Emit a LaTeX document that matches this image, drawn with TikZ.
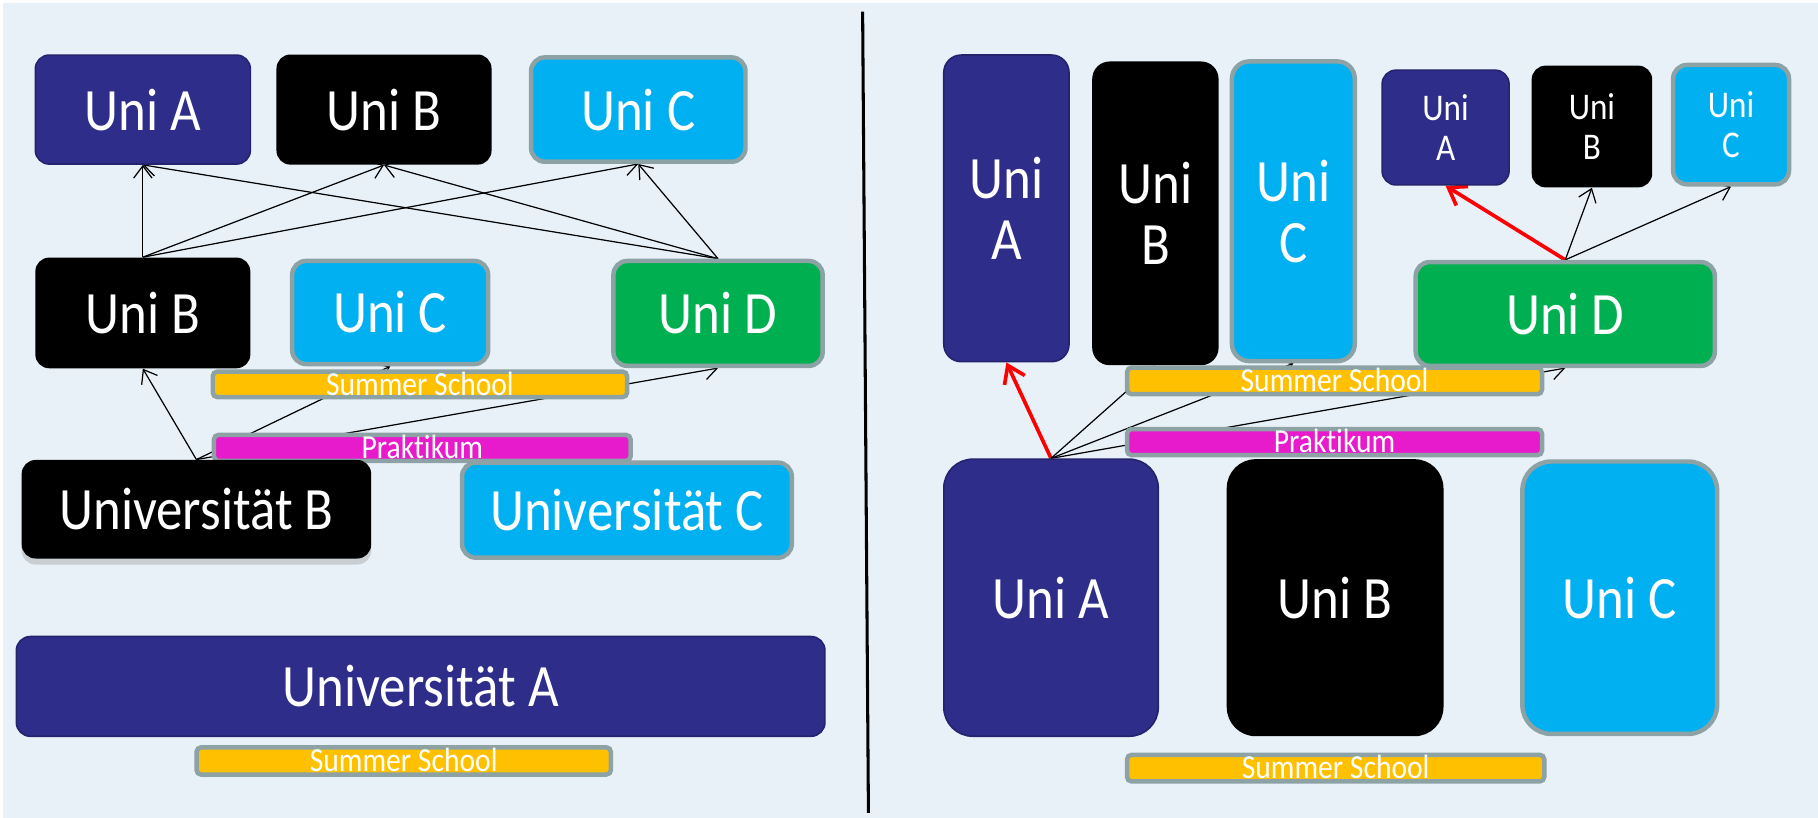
\documentclass[tikz,border=0pt]{standalone}
\usepackage{fontspec}
\setmainfont{Carlito}[FakeStretch=0.88, Ligatures=NoCommon]
\usetikzlibrary{arrows.meta, shadows}
\definecolor{uninavy}{RGB}{46,45,137}
\definecolor{navyedge}{RGB}{36,35,110}
\definecolor{unicyan}{RGB}{0,176,240}
\definecolor{unigreen}{RGB}{0,176,80}
\definecolor{uniorange}{RGB}{255,192,0}
\definecolor{unipink}{RGB}{231,27,204}
\definecolor{greyedge}{RGB}{140,162,165}
\definecolor{paper}{RGB}{233,241,248}
\newcommand{\bigtxt}{\fontsize{29.5pt}{30pt}\selectfont}
\newcommand{\smalltxt}{\fontsize{18.5pt}{20pt}\selectfont}
\newcommand{\bartxt}{\fontsize{16.5pt}{16pt}\selectfont}
\pgfdeclarelayer{back}
\pgfdeclarelayer{links}
\pgfsetlayers{back,links,main}

\begin{document}
\begin{tikzpicture}[x=0.02cm, y=-0.02cm,
    box/.style={rectangle, rounded corners=0.24cm, inner sep=0pt, text=white,
                align=center, font=\bigtxt},
    navybox/.style={box, fill=uninavy, draw=navyedge, line width=0.8pt},
    blackbox/.style={box, fill=black},
    cyanbox/.style={box, fill=unicyan, draw=greyedge, line width=2.2pt},
    greenbox/.style={box, fill=unigreen, draw=greyedge, line width=2.2pt},
    bar/.style={rectangle, rounded corners=0.08cm, draw=greyedge, line width=2.2pt,
                inner sep=0pt, text=white, font=\bartxt, text height=10.5pt, text depth=0pt},
    link/.style={-{Straight Barb[length=6pt,width=9pt]}, line width=0.6pt},
    hot/.style={-{Straight Barb[length=8pt,width=11pt]}, red, line width=1.8pt}]

    \useasboundingbox (0,0) rectangle (1568,705.5);
    \begin{pgfonlayer}{back}
        \fill[white] (0,0) rectangle (1568,705.5);
        \fill[paper] (3,3) rectangle (1568,705.5);
    \end{pgfonlayer}

    % Left half
    \node[navybox, minimum width=3.71cm, minimum height=1.88cm] (topA) at (123.2,94.5) {Uni A};
    \node[blackbox, minimum width=3.71cm, minimum height=1.90cm] (topB) at (331.2,94.5) {Uni B};
    \node[cyanbox, minimum width=3.70cm, minimum height=1.80cm] (topC) at (550.5,94.5) {Uni C};

    \node[blackbox, minimum width=3.71cm, minimum height=1.91cm] (midB) at (123.2,269.9) {Uni B};
    \node[cyanbox, minimum width=3.38cm, minimum height=1.78cm] (midC) at (336.5,269.5) {Uni C};
    \node[greenbox, minimum width=3.61cm, minimum height=1.81cm] (midD) at (619.3,270.3) {Uni D};

    \node[bar, fill=uniorange, minimum width=7.15cm, minimum height=0.44cm] (sumL) at (362.2,331.5) {Summer School};
    \node[bar, fill=unipink, minimum width=7.19cm, minimum height=0.45cm] (prakL) at (364.2,386.3) {Praktikum};

    \node[blackbox, minimum width=6.03cm, minimum height=1.70cm,
          drop shadow={shadow xshift=0pt, shadow yshift=-3pt, opacity=0.3}] (univB) at (169.4,439.2) {Universität B};
    \node[cyanbox, minimum width=5.69cm, minimum height=1.64cm] (univC) at (540.7,440) {Universität C};
    \node[navybox, minimum width=13.95cm, minimum height=1.72cm] (univA) at (362.8,592) {Universität A};
    \node[bar, fill=uniorange, minimum width=7.15cm, minimum height=0.47cm] (sumLow) at (348.2,656.3) {Summer School};

    % Divider
    \draw[line width=1.5pt] (744,10) -- (749,701);

    % Right half
    \node[navybox, rounded corners=0.3cm, minimum width=2.16cm, minimum height=5.29cm] (tallA) at (868,179.7) {Uni\\A};
    \node[blackbox, rounded corners=0.3cm, minimum width=2.18cm, minimum height=5.24cm] (tallB) at (996.5,184) {Uni\\B};
    \node[cyanbox, rounded corners=0.3cm, minimum width=2.12cm, minimum height=5.17cm] (tallC) at (1115.5,182.2) {Uni\\C};

    \node[navybox, font=\smalltxt, minimum width=2.19cm, minimum height=1.98cm] (smA) at (1246.8,110) {Uni\\A};
    \node[blackbox, font=\smalltxt, minimum width=2.08cm, minimum height=2.10cm] (smB) at (1373,109.1) {Uni\\B};
    \node[cyanbox, font=\smalltxt, minimum width=2.00cm, minimum height=2.06cm] (smC) at (1493,107.5) {Uni\\C};

    \node[greenbox, minimum width=5.16cm, minimum height=1.79cm] (uniD) at (1350,270.8) {Uni D};

    \node[bar, fill=uniorange, minimum width=7.16cm, minimum height=0.46cm] (sumR) at (1151,328.5) {Summer School};
    \node[bar, fill=unipink, minimum width=7.16cm, minimum height=0.45cm] (prakR) at (1151,381.3) {Praktikum};

    \node[navybox, rounded corners=0.5cm, minimum width=3.70cm, minimum height=4.78cm] (bigA) at (906.5,515.5) {Uni A};
    \node[blackbox, rounded corners=0.5cm, minimum width=3.74cm, minimum height=4.78cm] (bigB) at (1151.5,515.5) {Uni B};
    \node[cyanbox, rounded corners=0.5cm, minimum width=3.36cm, minimum height=4.70cm] (bigC) at (1397,515.5) {Uni C};
    \node[bar, fill=uniorange, minimum width=7.20cm, minimum height=0.46cm] (sumLowR) at (1152,662.5) {Summer School};

    % Arrows (behind the boxes)
    \begin{pgfonlayer}{links}
        \draw[link] (midB.north) -- (topA.south);
        \draw[link] (midB.north) -- (topB.south);
        \draw[link] (midB.north) -- (topC.south);
        \draw[link] (midD.north) -- (topA.south);
        \draw[link] (midD.north) -- (topB.south);
        \draw[link] (midD.north) -- (topC.south);
        \draw[link] (univB.north) -- (midB.south);
        \draw[link] (univB.north) -- (midC.south);
        \draw[link] (univB.north) -- (midD.south);

        \draw[hot] (bigA.north) -- (tallA.south);
        \draw[link] (bigA.north) -- (tallB.south);
        \draw[link] (bigA.north) -- (tallC.south);
        \draw[link] (bigA.north) -- (uniD.south);
        \draw[hot] (uniD.north) -- (smA.south);
        \draw[link] (uniD.north) -- (smB.south);
        \draw[link] (uniD.north) -- (smC.south);
    \end{pgfonlayer}
\end{tikzpicture}
\end{document}
